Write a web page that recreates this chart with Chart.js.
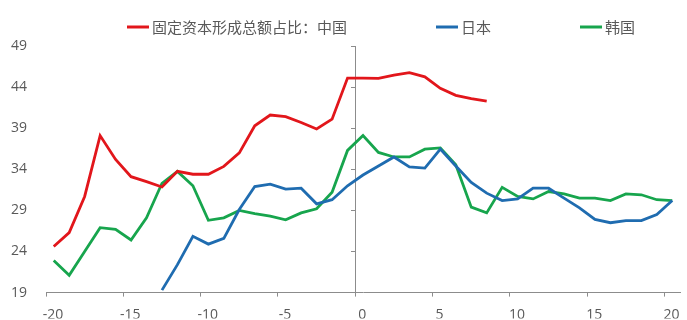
<!DOCTYPE html>
<html>
<head>
<meta charset="utf-8">
<script src="https://cdn.jsdelivr.net/npm/chart.js@4.4.1/dist/chart.umd.min.js"></script>
<style>
  html, body { margin: 0; padding: 0; background: #fff; }
  #wrap { width: 687px; height: 320px; position: relative; }
</style>
</head>
<body>
<div id="wrap"><canvas id="chart"></canvas></div>
<script>
// x positions of the yearly points
const xValues = [-19.5, -18.5, -17.5, -16.5, -15.5, -14.5, -13.5, -12.5, -11.5, -10.5,
  -9.5, -8.5, -7.5, -6.5, -5.5, -4.5, -3.5, -2.5, -1.5, -0.5,
  0.5, 1.5, 2.5, 3.5, 4.5, 5.5, 6.5, 7.5, 8.5, 9.5,
  10.5, 11.5, 12.5, 13.5, 14.5, 15.5, 16.5, 17.5, 18.5, 19.5, 20.5];

const chinaShare = [24.6, 26.3, 30.7, 38.1, 35.2, 33.1, 32.5, 31.85, 33.75, 33.4,
  33.4, 34.35, 36.0, 39.3, 40.6, 40.4, 39.7, 38.9, 40.1, 45.1,
  45.1, 45.05, 45.45, 45.75, 45.25, 43.85, 43.0, 42.6, 42.3, null,
  null, null, null, null, null, null, null, null, null, null, null];

const japanShare = [null, null, null, null, null, null, null, 19.3, 22.4, 25.85,
  24.9, 25.6, 29.1, 31.9, 32.2, 31.6, 31.7, 29.8, 30.3, 32.0,
  33.3, 34.4, 35.5, 34.3, 34.15, 36.45, 34.4, 32.4, 31.1, 30.2,
  30.4, 31.7, 31.7, 30.5, 29.3, 27.9, 27.5, 27.75, 27.75, 28.5, 30.2];

const koreaShare = [22.9, 21.1, 24.0, 26.9, 26.7, 25.4, 28.1, 32.3, 33.75, 32.0,
  27.8, 28.1, 29.0, 28.6, 28.3, 27.85, 28.7, 29.2, 31.2, 36.3,
  38.1, 36.05, 35.5, 35.5, 36.45, 36.6, 34.55, 29.4, 28.7, 31.8,
  30.7, 30.4, 31.3, 31.0, 30.5, 30.5, 30.2, 31.0, 30.9, 30.3, 30.2];

const seriesNames = ['固定资本形成总额占比：中国', '日本', '韩国'];
const xTicks = [-20, -15, -10, -5, 0, 5, 10, 15, 20];
const yTicks = [19, 24, 29, 34, 39, 44, 49];

const toPoints = arr => xValues.map((x, i) => ({ x: x, y: arr[i] }));

const axisGray = '#8c8c8c';
const textGray = '#595959';
const tickFont = { family: '"Open Sans", "Noto Sans", sans-serif', size: 14 };

// legend drawn above the plot: short line then label
const topLegend = {
  id: 'topLegend',
  afterDraw(chart) {
    const ctx = chart.ctx;
    ctx.save();
    ctx.font = '15px "Noto Sans CJK SC", sans-serif';
    ctx.textBaseline = 'middle';
    let x = 127;
    const y = 27;
    chart.data.datasets.forEach(ds => {
      ctx.strokeStyle = ds.borderColor;
      ctx.lineWidth = 3;
      ctx.beginPath();
      ctx.moveTo(x, y);
      ctx.lineTo(x + 22, y);
      ctx.stroke();
      ctx.fillStyle = textGray;
      ctx.fillText(ds.label, x + 25, y);
      x += 25 + ctx.measureText(ds.label).width + 89;
    });
    ctx.restore();
  }
};

const lineStyle = color => ({
  borderColor: color,
  backgroundColor: color,
  borderWidth: 2.8,
  pointRadius: 0,
  tension: 0,
  fill: false
});

new Chart(document.getElementById('chart'), {
  type: 'line',
  data: {
    datasets: [
      { label: seriesNames[0], data: toPoints(chinaShare), ...lineStyle('#e2161b') },
      { label: seriesNames[1], data: toPoints(japanShare), ...lineStyle('#1f6cb0') },
      { label: seriesNames[2], data: toPoints(koreaShare), ...lineStyle('#17a54d') }
    ]
  },
  options: {
    responsive: true,
    maintainAspectRatio: false,
    animation: false,
    layout: { padding: { top: 46, right: 7, left: 0, bottom: 0 } },
    plugins: {
      legend: { display: false },
      tooltip: { enabled: false }
    },
    scales: {
      x: {
        type: 'linear',
        min: -20,
        max: 21,
        afterBuildTicks: s => { s.ticks = xTicks.map(v => ({ value: v })); },
        afterFit: s => { s.height = 26; },
        ticks: { color: textGray, font: tickFont, padding: 10, labelOffset: 7, maxRotation: 0 },
        grid: { drawOnChartArea: false, drawTicks: true, tickLength: 4, color: axisGray },
        border: { display: true, color: axisGray, width: 1 }
      },
      y: {
        type: 'linear',
        min: 19,
        max: 49,
        afterBuildTicks: s => { s.ticks = yTicks.map(v => ({ value: v })); },
        afterFit: s => { s.width = 46; },
        ticks: { color: textGray, font: tickFont, padding: 19 },
        grid: { display: false, drawTicks: false },
        border: { display: false }
      },
      y2: {
        type: 'linear',
        axis: 'y',
        position: { x: 0 },
        min: 19,
        max: 49,
        afterBuildTicks: s => { s.ticks = yTicks.map(v => ({ value: v })); },
        ticks: { display: false },
        grid: { drawOnChartArea: false, drawTicks: true, tickLength: 4, color: axisGray },
        border: { display: true, color: axisGray, width: 1 }
      }
    }
  },
  plugins: [topLegend]
});
</script>
</body>
</html>
